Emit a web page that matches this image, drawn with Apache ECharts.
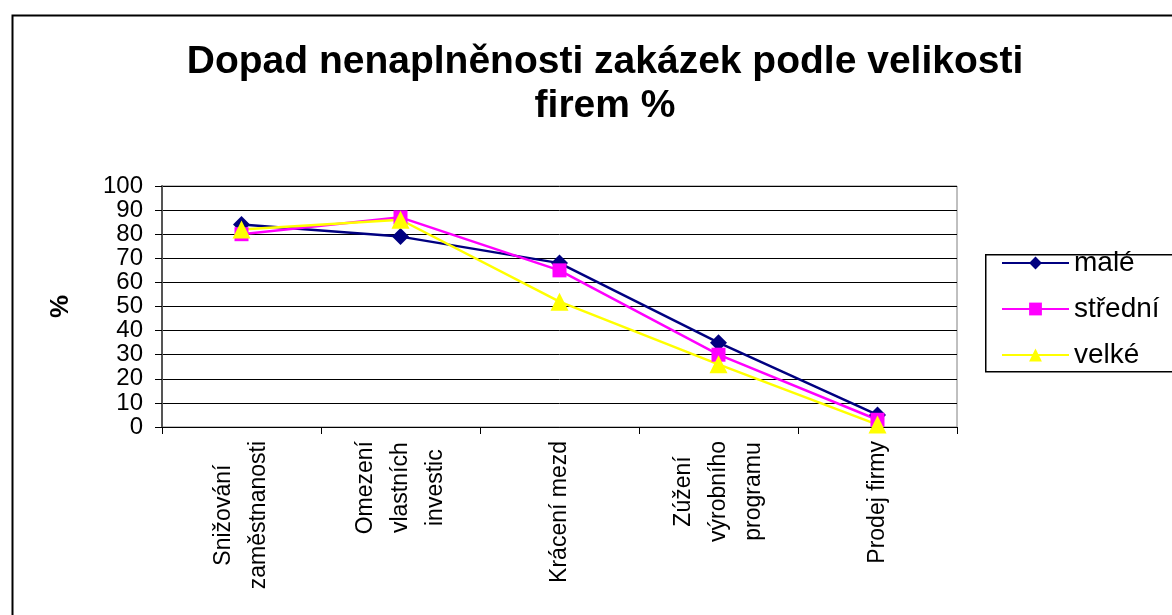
<!DOCTYPE html>
<html>
<head>
<meta charset="utf-8">
<script src="https://cdn.jsdelivr.net/npm/echarts@6/dist/echarts.min.js"></script>
<style>
  html, body { margin: 0; padding: 0; background: #fff; }
  #chart { width: 1172px; height: 615px; }
</style>
</head>
<body>
<div id="chart"></div>
<script>
// kategorie a hodnoty
const categories = [
  "Snižování\nzaměstnanosti",
  "Omezení\nvlastních\ninvestic",
  "Krácení mezd",
  "Zúžení\nvýrobního\nprogramu",
  "Prodej firmy"
];
const male = [84, 79, 68, 35, 5];
const stredni = [80, 87, 65, 30, 3];
const velke = [82, 86, 52, 26, 1];
const yTicks = [0, 10, 20, 30, 40, 50, 60, 70, 80, 90, 100];

const FONT = "Liberation Sans, Arial, sans-serif";

const chart = echarts.init(document.getElementById("chart"));

const option = {
  backgroundColor: "#fff",
  animation: false,
  title: {
    text: "Dopad nenaplněnosti zakázek podle velikosti\nfirem %",
    left: 600,
    top: 35,
    textAlign: "center",
    textStyle: { fontFamily: FONT, fontSize: 39, fontWeight: "bold", color: "#000", lineHeight: 44 }
  },
  // rámeček grafu + rámeček legendy
  graphic: [
    { type: "rect", left: 10, top: 13, shape: { width: 1180, height: 620 },
      style: { fill: "none", stroke: "#000", lineWidth: 2 } },
    { type: "rect", left: 985, top: 254, shape: { width: 200, height: 117 },
      style: { fill: "#fff", stroke: "#000", lineWidth: 1.5 } }
  ],
  legend: {
    orient: "vertical",
    left: 996,
    top: 244,
    itemWidth: 67,
    itemHeight: 16,
    itemGap: 18,
    textStyle: { fontFamily: FONT, fontSize: 28, color: "#000" },
    data: ["malé", "střední", "velké"]
  },
  grid: {
    left: 162, right: 215, top: 186, bottom: 188,
    show: true, borderColor: "#808080", borderWidth: 1
  },
  xAxis: {
    type: "category",
    data: categories,
    boundaryGap: true,
    axisLine: { lineStyle: { color: "#000", width: 1 } },
    axisTick: { show: true, length: 7, lineStyle: { color: "#000" } },
    axisLabel: {
      rotate: 90,
      interval: 0,
      margin: 14,
      color: "#000",
      formatter: v => v.split("\n").map(s => "{c|" + s + "}").join("\n"),
      rich: { c: { align: "center", fontFamily: FONT, fontSize: 23, lineHeight: 35, color: "#000" } }
    }
  },
  yAxis: {
    type: "value",
    min: yTicks[0],
    max: yTicks[yTicks.length - 1],
    interval: 10,
    name: "%",
    nameLocation: "middle",
    nameGap: 88,
    nameRotate: 90,
    nameTextStyle: { fontFamily: FONT, fontSize: 26, fontWeight: "bold", color: "#000" },
    axisLine: { show: true, lineStyle: { color: "#555", width: 2 } },
    axisTick: { show: true, length: 7, lineStyle: { color: "#000" } },
    axisLabel: { margin: 19, fontFamily: FONT, fontSize: 24, color: "#000" },
    splitLine: { show: true, lineStyle: { color: "#000", width: 1 } }
  },
  series: [
    {
      name: "malé", type: "line", data: male,
      symbol: "diamond", symbolSize: 17,
      lineStyle: { color: "#000080", width: 2.5 },
      itemStyle: { color: "#000080" }
    },
    {
      name: "střední", type: "line", data: stredni,
      symbol: "rect", symbolSize: 14,
      lineStyle: { color: "#FF00FF", width: 2.5 },
      itemStyle: { color: "#FF00FF" }
    },
    {
      name: "velké", type: "line", data: velke,
      symbol: "triangle", symbolSize: 18,
      lineStyle: { color: "#FFFF00", width: 2.5 },
      itemStyle: { color: "#FFFF00" }
    }
  ]
};

chart.setOption(option);
</script>
</body>
</html>
